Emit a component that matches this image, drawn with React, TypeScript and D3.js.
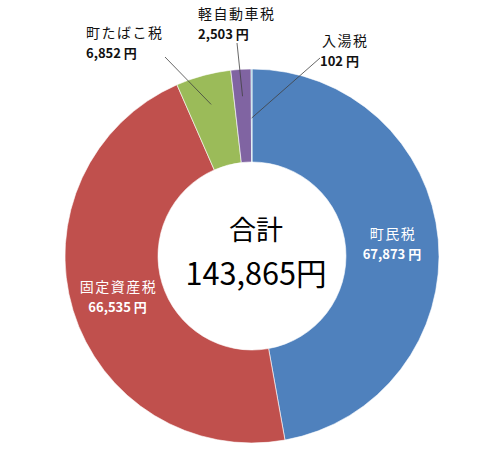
// React
import { useEffect, useRef } from 'react';

// Installed Packages
import * as d3 from 'd3';

// Chart data
const categories = ['町民税', '固定資産税', '町たばこ税', '軽自動車税', '入湯税'];
const amounts = [67873, 66535, 6852, 2503, 102];
const sliceColors = ['#4F81BD', '#C0504D', '#9BBB59', '#8064A2', '#4BACC6'];
const totalLabel = '合計';

// Where the outside labels sit (null = inside the slice on its centroid)
const outsideLabels: ({ x: number, y: number, lineFrom: [number, number], lineR: number } | null)[] = [
    null,
    null,
    { x: 86, y: 38, lineFrom: [165, 57], lineR: 157 },
    { x: 198, y: 19, lineFrom: [237, 43], lineR: 160 },
    { x: 322, y: 46, lineFrom: [320, 58], lineR: 138 },
];

const W = 500;
const H = 461;

export default function App() {
    const ref = useRef<SVGSVGElement>(null);

    useEffect(() => {
        const svg = d3.select(ref.current);
        svg.selectAll('*').remove();

        const cx = 252, cy = 256;
        const outerR = 187, innerR = 94;
        const total = d3.sum(amounts);
        const font = "'Noto Sans CJK JP', 'Noto Sans', sans-serif";

        const pie = d3.pie<number>().sort(null).value(d => d);
        const arcs = pie(amounts);
        const arc = d3.arc<d3.PieArcDatum<number>>().innerRadius(innerR).outerRadius(outerR);

        const g = svg.append('g').attr('transform', `translate(${cx}, ${cy})`);

        g.selectAll('path.slice')
            .data(arcs)
            .join('path')
            .attr('class', 'slice')
            .attr('d', arc)
            .attr('fill', (d, i) => sliceColors[i])
            .attr('stroke', '#fff')
            .attr('stroke-width', 0.6);

        const fmt = d3.format(',');

        arcs.forEach((a, i) => {
            const out = outsideLabels[i];
            const mid = (a.startAngle + a.endAngle) / 2;
            if (!out) {
                const [x, y] = arc.centroid(a);
                const t = g.append('text')
                    .attr('text-anchor', 'middle')
                    .attr('fill', '#fff')
                    .style('font-family', font);
                t.append('tspan').attr('x', x + 1).attr('y', y - 5)
                    .style('font-size', '14px').style('letter-spacing', '1.5px')
                    .text(categories[i]);
                t.append('tspan').attr('x', x).attr('y', y + 15)
                    .style('font-size', '13px').style('font-weight', 'bold')
                    .text(`${fmt(amounts[i])} 円`);
            } else {
                const ex = cx + out.lineR * Math.sin(mid);
                const ey = cy - out.lineR * Math.cos(mid);
                svg.append('line')
                    .attr('x1', out.lineFrom[0]).attr('y1', out.lineFrom[1])
                    .attr('x2', ex).attr('y2', ey)
                    .attr('stroke', '#404040').attr('stroke-width', 0.8);
                const t = svg.append('text').attr('fill', '#111').style('font-family', font);
                t.append('tspan').attr('x', out.x).attr('y', out.y)
                    .style('font-size', '14px').style('letter-spacing', '1.5px')
                    .text(categories[i]);
                t.append('tspan').attr('x', out.x - (i === 4 ? 2 : 0)).attr('y', out.y + 20)
                    .style('font-size', '13px').style('font-weight', 'bold')
                    .text(`${fmt(amounts[i])} 円`);
            }
        });

        // Total in the hole
        g.append('text')
            .attr('x', 4).attr('y', -16)
            .attr('text-anchor', 'middle')
            .style('font-family', font)
            .style('font-size', '27px')
            .attr('fill', '#000')
            .text(totalLabel);
        g.append('text')
            .attr('x', 4).attr('y', 29)
            .attr('text-anchor', 'middle')
            .attr('textLength', 141)
            .attr('lengthAdjust', 'spacingAndGlyphs')
            .style('font-family', font)
            .style('font-size', '31px')
            .attr('fill', '#000')
            .text(`${fmt(total)}円`);
    }, []);

    return (
        <div style={{ position: 'absolute', left: 0, top: 0 }}>
            <svg ref={ref} width={W} height={H} style={{ display: 'block', background: '#fff' }} />
        </div>
    );
}
